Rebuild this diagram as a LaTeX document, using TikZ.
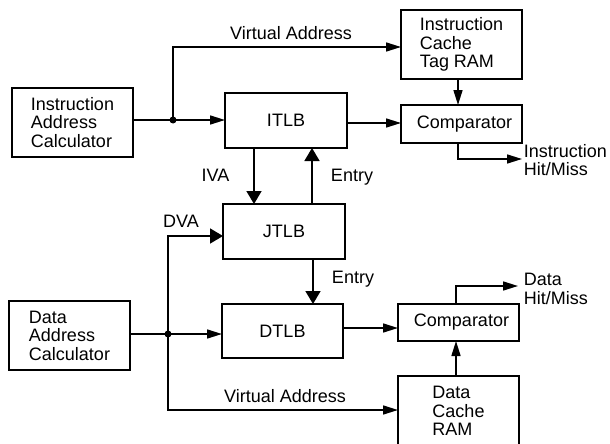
\documentclass[tikz,border=0pt]{standalone}
\usepackage{fontspec}
\setmainfont{Liberation Sans}
\usetikzlibrary{arrows.meta}
\begin{document}
\begin{tikzpicture}[x=1pt,y=-1pt,
  line width=1.6pt,
  every node/.style={font=\fontsize{18}{18.5}\selectfont},
  blk/.style={draw, line width=1.6pt, inner sep=0pt, outer sep=0pt, align=left},
  lbl/.style={inner sep=0pt, align=left},
  arr/.style={-{Triangle[length=15pt,width=9pt]}},
  big/.style={-{Triangle[length=13pt,width=15pt]}}]
\useasboundingbox (0,0) rectangle (610,444);
% blocks
\node[blk, minimum width=121pt, minimum height=69pt] (iac) at (72.5,122.5) {Instruction\\Address\\Calculator};
\node[blk, minimum width=121pt, minimum height=69pt] (dac) at (69.5,335.5) {Data\\Address\\Calculator};
\node[blk, minimum width=122pt, minimum height=55pt] (itlb) at (286,120.5) {ITLB};
\node[blk, minimum width=122pt, minimum height=55pt] (jtlb) at (284,231.5) {JTLB};
\node[blk, minimum width=121pt, minimum height=54pt] (dtlb) at (282.5,331) {DTLB};
\node[blk, minimum width=121pt, minimum height=69pt] (icache) at (461.5,44.5) {Instruction\\Cache\\Tag RAM};
\node[blk, minimum width=121pt, minimum height=38pt] (comp1) at (461.5,124) {\hspace*{6pt}Comparator};
\node[blk, minimum width=121pt, minimum height=37pt] (comp2) at (458.5,322.5) {\hspace*{6pt}Comparator};
\node[blk, minimum width=121pt, minimum height=70pt] (dcache) at (458.5,411) {Data\\Cache\\RAM};
% coordinates
\coordinate (j1) at (173,120);
\coordinate (j2) at (168,334);
\coordinate (va1) at (0,47);
\coordinate (va2) at (0,410);
\coordinate (dva) at (0,236);
\coordinate (xiva) at (254,0);
\coordinate (xe1) at (312,0);
\coordinate (xe2) at (313,0);
\coordinate (yit) at (0,123);
\coordinate (ydt) at (0,328);
\coordinate (im) at (522,159);
\coordinate (dm) at (518,286);
% instruction side
\draw (iac.east |- j1) -- (j1);
\draw[arr] (j1) -- (itlb.west |- j1);
\draw[arr] (j1) |- (icache.west |- va1);
\node[lbl] (vat) at (291,33.5) {Virtual Address};
\draw[arr] (itlb.east |- yit) -- (comp1.west |- yit);
\draw[arr] ([xshift=-3.5pt]icache.south) -- ([xshift=-3.5pt]comp1.north);
\draw[arr] ([xshift=-3.5pt]comp1.south) |- (im);
\node[lbl, anchor=west] (iml) at (523,160) {Instruction\\Hit/Miss};
% TLB links
\draw[big] (itlb.south -| xiva) -- (jtlb.north -| xiva);
\node[lbl] (ival) at (215.5,175) {IVA};
\draw[big] (jtlb.north -| xe1) -- (itlb.south -| xe1);
\node[lbl] (e1l) at (352,177) {Entry};
\draw[big] (jtlb.south -| xe2) -- (dtlb.north -| xe2);
\node[lbl] (e2l) at (353,279) {Entry};
% data side
\draw (dac.east |- j2) -- (j2);
\draw[arr] (j2) -- (dtlb.west |- j2);
\draw[big] (j2) -- (j2 |- dva) -- (jtlb.west |- dva);
\node[lbl] (dval) at (181,221) {DVA};
\draw[arr] (j2) |- (dcache.west |- va2);
\node[lbl] (vab) at (285,396.5) {Virtual Address};
\draw[arr] (dtlb.east |- ydt) -- (comp2.west |- ydt);
\draw[arr] ([xshift=-2.5pt]dcache.north) -- ([xshift=-2.5pt]comp2.south);
\draw[arr] ([xshift=-2.5pt]comp2.north) |- (dm);
\node[lbl, anchor=west] (dml) at (523,289) {Data\\Hit/Miss};
% junction dots
\fill (j1) circle[radius=3.5pt];
\fill (j2) circle[radius=3.5pt];
\end{tikzpicture}
\end{document}
